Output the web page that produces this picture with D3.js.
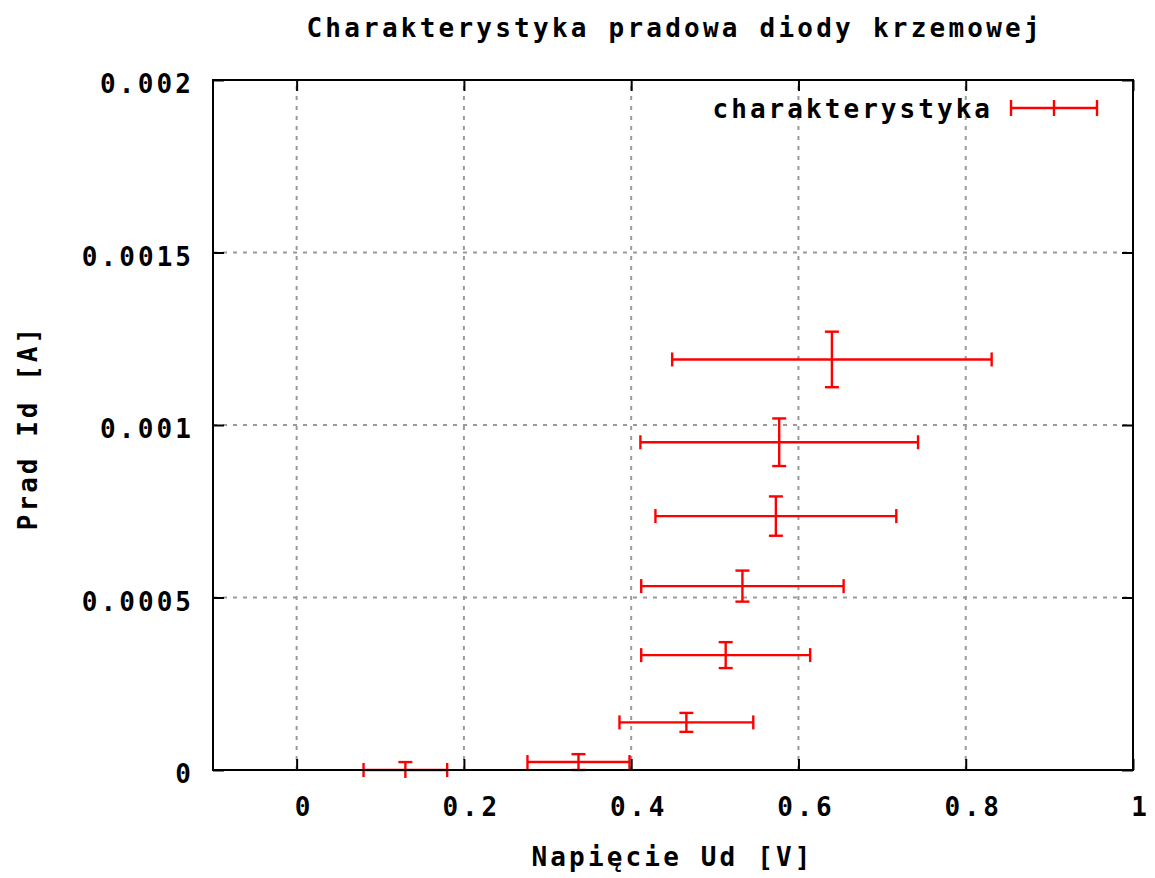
<!DOCTYPE html>
<html><head><meta charset="utf-8">
<script src="https://cdn.jsdelivr.net/npm/d3@7"></script>
<style>body{margin:0;background:#fff}svg{display:block}text{font-family:"DejaVu Sans Mono",monospace;font-weight:bold;fill:#000}</style>
</head><body>
<script>
const title = "Charakterystyka pradowa diody krzemowej";
const xLabel = "Napięcie Ud [V]";
const yLabel = "Prad Id [A]";
const seriesName = "charakterystyka";
const xValues = [0.130, 0.337, 0.466, 0.513, 0.533, 0.573, 0.577, 0.640];
const xErrors = [0.050, 0.061, 0.080, 0.101, 0.121, 0.144, 0.166, 0.191];
const yValues = [0, 0.000023, 0.000138, 0.000333, 0.000533, 0.000736, 0.000950, 0.00119];
const yErrors = [0.000023, 0.000023, 0.0000275, 0.0000376, 0.000045, 0.000057, 0.000069, 0.0000805];
const xTicks = [0, 0.2, 0.4, 0.6, 0.8, 1];
const xTickLabels = ["0", "0.2", "0.4", "0.6", "0.8", "1"];
const yTicks = [0, 0.0005, 0.001, 0.0015, 0.002];
const yTickLabels = ["0", "0.0005", "0.001", "0.0015", "0.002"];

const W = 1155, H = 878;
const L = 213, R = 1133, T = 80, B = 770;
const x = d3.scaleLinear().domain([-0.1, 1]).range([L, R]);
const y = d3.scaleLinear().domain([0, 0.002]).range([B, T]);

const svg = d3.select("body").append("svg").attr("width", W).attr("height", H);

function txt(g, s, px, py, anchor, pitch, size) {
  return g.append("text").attr("x", px).attr("y", py).attr("text-anchor", anchor)
    .attr("font-size", size || 26).attr("textLength", s.length * pitch)
    .attr("lengthAdjust", "spacing").text(s);
}

// grid
const grid = svg.append("g").attr("stroke", "#9a9a9a").attr("stroke-width", 2).attr("stroke-dasharray", "4,6");
xTicks.filter(v => v > -0.1 && v < 1).forEach(v => {
  grid.append("line").attr("x1", x(v)).attr("x2", x(v)).attr("y1", B).attr("y2", T);
});
yTicks.filter(v => v > 0 && v < 0.002).forEach(v => {
  grid.append("line").attr("x1", L).attr("x2", R).attr("y1", y(v)).attr("y2", y(v));
});

// error bars
const red = "#ff0000", cap = 7;
const eb = svg.append("g").attr("stroke", red).attr("stroke-width", 2.4).attr("fill", "none");
xValues.forEach((xv, i) => {
  const yv = yValues[i], dx = xErrors[i], dy = yErrors[i];
  const cx = x(xv), cy = y(yv);
  const x0 = x(xv - dx), x1 = x(xv + dx);
  const y0 = y(yv - dy), y1 = y(yv + dy);
  eb.append("line").attr("x1", x0).attr("x2", x1).attr("y1", cy).attr("y2", cy);
  eb.append("line").attr("x1", cx).attr("x2", cx).attr("y1", y0).attr("y2", y1);
  [x0, x1].forEach(px => eb.append("line").attr("x1", px).attr("x2", px).attr("y1", cy - cap).attr("y2", cy + cap));
  [[yv + dy, y1], [yv - dy, y0]].forEach(([v, py]) => {
    if (v >= 0 && v <= 0.002) eb.append("line").attr("x1", cx - cap).attr("x2", cx + cap).attr("y1", py).attr("y2", py);
  });
});

// axes via d3 axis (inward ticks, mirrored)
const tl = 11;
function styleAxis(g) {
  g.select(".domain").remove();
  g.selectAll(".tick line").attr("stroke", "#000").attr("stroke-width", 2);
  g.selectAll(".tick text").remove();
}
svg.append("g").attr("transform", `translate(0,${B})`)
  .call(d3.axisTop(x).tickValues(xTicks).tickSize(tl)).call(styleAxis);
svg.append("g").attr("transform", `translate(0,${T})`)
  .call(d3.axisBottom(x).tickValues(xTicks).tickSize(tl)).call(styleAxis);
svg.append("g").attr("transform", `translate(${L},0)`)
  .call(d3.axisRight(y).tickValues(yTicks).tickSize(tl)).call(styleAxis);
svg.append("g").attr("transform", `translate(${R},0)`)
  .call(d3.axisLeft(y).tickValues(yTicks).tickSize(tl)).call(styleAxis);

svg.append("rect").attr("x", L).attr("y", T).attr("width", R - L).attr("height", B - T)
  .attr("fill", "none").attr("stroke", "#000").attr("stroke-width", 2);

// tick labels
const lab = svg.append("g");
xTicks.forEach((v, i) => txt(lab, xTickLabels[i], x(v) + 6, 816, "middle", 18.2));
yTicks.forEach((v, i) => txt(lab, yTickLabels[i], 191, y(v) + 13, "end", 18.2));

// titles
txt(svg, title, 673, 37, "middle", 18.8);
txt(svg, xLabel, 671, 866, "middle", 18.6);
txt(svg, yLabel, 0, 0, "middle", 18.4).attr("transform", "translate(37,429) rotate(-90)");

// legend
txt(svg, seriesName, 990, 118, "end", 18.5);
const lg = svg.append("g").attr("stroke", red).attr("stroke-width", 2.4);
lg.append("line").attr("x1", 1011).attr("x2", 1097).attr("y1", 108).attr("y2", 108);
[1011, 1054, 1097].forEach(px => lg.append("line").attr("x1", px).attr("x2", px).attr("y1", 100).attr("y2", 116));
</script>
</body></html>
